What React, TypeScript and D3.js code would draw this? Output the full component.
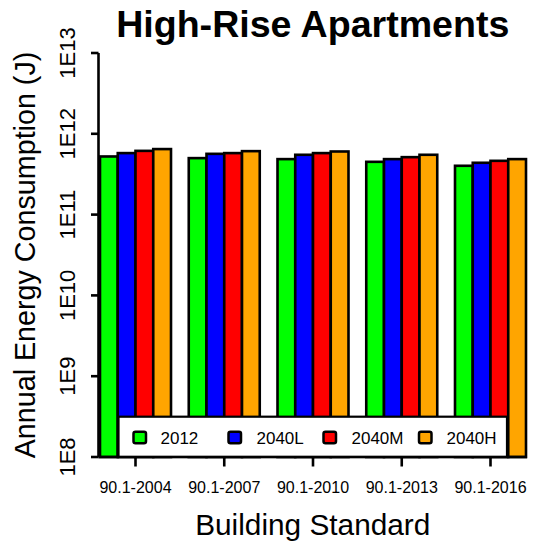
import React from "react";
import * as d3 from "d3";

const standards = ["90.1-2004", "90.1-2007", "90.1-2010", "90.1-2013", "90.1-2016"];
const seriesNames = ["2012", "2040L", "2040M", "2040H"];
const seriesColors = ["#00FF00", "#0000FF", "#FF0000", "#FFA500"];
const values2012 = [5.24e11, 5.0e11, 4.86e11, 4.5e11, 4.02e11];
const values2040L = [5.77e11, 5.65e11, 5.5e11, 4.86e11, 4.38e11];
const values2040M = [6.15e11, 5.77e11, 5.77e11, 5.14e11, 4.63e11];
const values2040H = [6.47e11, 6.1e11, 6.04e11, 5.5e11, 4.86e11];
const yTicks = [1e8, 1e9, 1e10, 1e11, 1e12, 1e13];
const yTickLabels = ["1E8", "1E9", "1E10", "1E11", "1E12", "1E13"];

const W = 544;
const H = 550;
const FONT = "'Liberation Sans', Arial, sans-serif";

export default function App() {
  const series = [values2012, values2040L, values2040M, values2040H];
  const plotLeft = 98.5;
  const plotRight = 527;
  const y = d3.scaleLog().domain([1e8, 1e13]).range([457, 53]);
  const x0 = d3.scaleBand<string>().domain(standards).range([100, 526]).paddingInner(0.2).paddingOuter(0);
  const x1 = d3.scaleBand<string>().domain(seriesNames).range([0, x0.bandwidth()]).padding(0);
  const base = y(1e8);
  const cx = (plotLeft + plotRight) / 2;

  const legendX = [133.5, 228.5, 323.5, 419];
  const legendTextX = [160.5, 256.5, 351.5, 446.5];

  return (
    <svg width={W} height={H} style={{ position: "absolute", left: 0, top: 0, background: "#fff" }} fontFamily={FONT}>
      <rect x={0} y={0} width={W} height={H} fill="#fff" />
      {/* bars */}
      {standards.map((s, i) => (
        <g key={s} transform={`translate(${x0(s)},0)`}>
          {seriesNames.map((n, j) => {
            const v = series[j][i];
            return (
              <rect
                key={n}
                x={x1(n)}
                y={y(v)}
                width={x1.bandwidth()}
                height={base - y(v)}
                fill={seriesColors[j]}
                stroke="#000"
                strokeWidth={2.6}
              />
            );
          })}
        </g>
      ))}
      {/* legend */}
      <rect x={118.5} y={416.7} width={388.5} height={base - 416.7} fill="#fff" stroke="#000" strokeWidth={2.2} />
      {seriesNames.map((n, j) => (
        <g key={n}>
          <rect x={legendX[j]} y={431.7} width={12.5} height={11.5} rx={2} fill={seriesColors[j]} stroke="#000" strokeWidth={2.5} />
          <text x={legendTextX[j]} y={443.8} fontSize={17}>{n}</text>
        </g>
      ))}
      {/* axes */}
      <line x1={plotLeft} x2={plotLeft} y1={y(1e13)} y2={base} stroke="#000" strokeWidth={2.6} />
      <line x1={plotLeft} x2={plotRight} y1={base} y2={base} stroke="#000" strokeWidth={2.6} />
      {yTicks.map((t, k) => (
        <g key={t}>
          <line x1={91} x2={plotLeft} y1={y(t)} y2={y(t)} stroke="#000" strokeWidth={2.6} />
          <text
            transform={`translate(75,${y(t)}) rotate(-90)`}
            textAnchor="middle"
            fontSize={22}
          >
            {yTickLabels[k]}
          </text>
        </g>
      ))}
      {standards.map((s) => {
        const c = (x0(s) as number) + x0.bandwidth() / 2;
        return (
          <g key={s}>
            <line x1={c} x2={c} y1={base} y2={466.5} stroke="#000" strokeWidth={2.6} />
            <text x={c} y={492.7} textAnchor="middle" fontSize={16}>{s}</text>
          </g>
        );
      })}
      {/* titles */}
      <text x={cx} y={37.3} textAnchor="middle" fontSize={37.6} fontWeight="bold">High-Rise Apartments</text>
      <text x={cx} y={535} textAnchor="middle" fontSize={29.8}>Building Standard</text>
      <text transform={`translate(35,${(y(1e13) + base) / 2}) rotate(-90)`} textAnchor="middle" fontSize={28.7}>
        Annual Energy Consumption (J)
      </text>
    </svg>
  );
}
